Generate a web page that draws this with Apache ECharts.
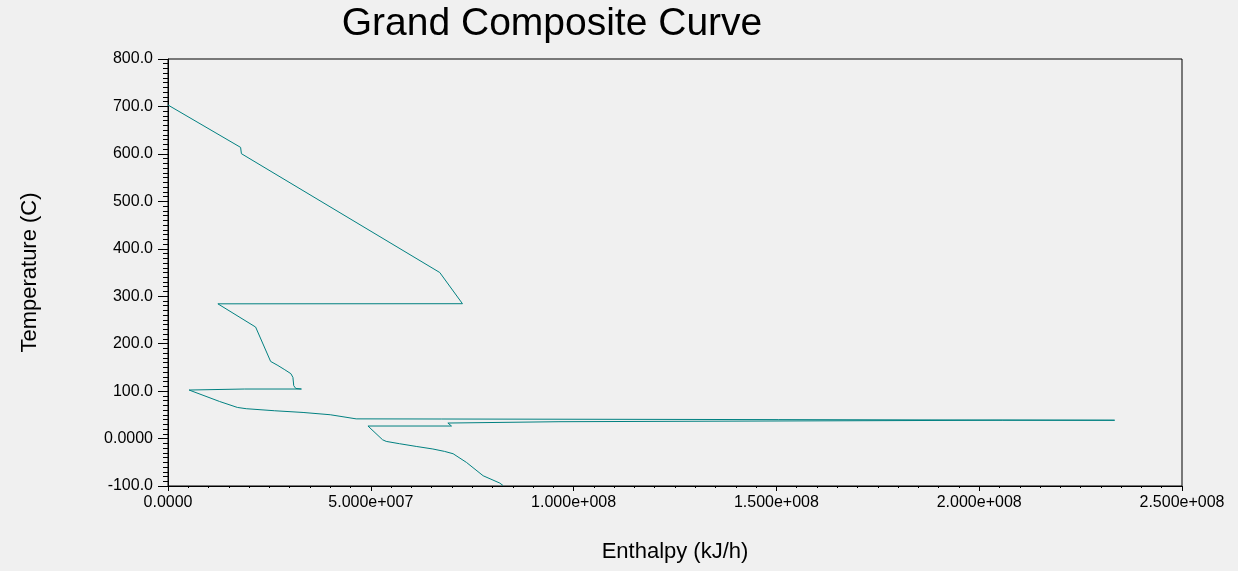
<!DOCTYPE html>
<html>
<head>
<meta charset="utf-8">
<title>Grand Composite Curve</title>
<script src="https://cdn.jsdelivr.net/npm/echarts@6/dist/echarts.min.js"></script>
<style>
  html, body { margin: 0; padding: 0; background: #f0f0f0; }
  #chart { width: 1238px; height: 571px; }
</style>
</head>
<body>
<div id="chart"></div>
<script>
// enthalpy in kJ/h, temperature in C
const enthalpy = [
  0, 17.9e6, 18.1e6, 67.0e6, 72.6e6, 12.3e6, 21.6e6, 25.3e6, 27.1e6, 28.8e6,
  30.3e6, 30.8e6, 31.0e6, 31.5e6, 32.9e6, 18.9e6, 18.9e6, 5.2e6, 12.7e6, 17.1e6,
  19.3e6, 26.3e6, 33.3e6, 40.0e6, 46.4e6, 67.5e6, 67.5e6, 233.4e6, 205.7e6, 205.7e6,
  96.4e6, 96.4e6, 69.0e6, 69.9e6, 49.3e6, 52.9e6, 53.8e6, 57.1e6, 61.2e6, 65.3e6,
  68.2e6, 70.3e6, 73.6e6, 77.7e6, 81.8e6, 82.6e6
];
const temperature = [
  703, 613.7, 600.4, 350, 284.2, 284.0, 235, 162.6, 154, 145,
  136.7, 128.9, 111.4, 105.7, 104.4, 104.4, 102.3, 102.3, 78.2, 65.6,
  62.9, 58.6, 55, 50.2, 41.5, 41.2, 39.0, 38.6, 38.6, 35.5,
  35.5, 32.7, 32.7, 26.4, 26.4, -2.5, -6, -10.9, -16.6, -22,
  -27.1, -32, -50.4, -78.4, -93.8, -99
];

const xMin = 0, xMax = 2.5e8, xStep = 5e7;
const yMin = -100, yMax = 800, yStep = 100;

const curve = enthalpy.map((h, i) => [h, temperature[i]]);

function expLabel(v) {
  if (v === 0) return '0.0000';
  const parts = v.toExponential(3).split('e');
  const sign = parts[1].charAt(0);
  const digits = parts[1].slice(1).padStart(3, '0');
  return parts[0] + 'e' + sign + digits;
}

const chart = echarts.init(document.getElementById('chart'));
chart.setOption({
  backgroundColor: '#f0f0f0',
  animation: false,
  textStyle: { fontFamily: 'Liberation Sans, Arial, sans-serif' },
  title: {
    text: 'Grand Composite Curve',
    left: 547,
    top: 0,
    textAlign: 'center',
    textStyle: { fontSize: 39, fontWeight: 'normal', color: '#000', fontFamily: 'Liberation Sans, Arial, sans-serif' }
  },
  grid: {
    left: 168, right: 56, top: 59, bottom: 85,
    show: true, borderColor: '#000', borderWidth: 1, backgroundColor: 'transparent'
  },
  xAxis: {
    type: 'value',
    min: xMin, max: xMax, interval: xStep,
    name: 'Enthalpy (kJ/h)',
    nameLocation: 'middle',
    nameGap: 55,
    nameTextStyle: { fontSize: 22, color: '#000' },
    axisLine: { show: true, onZero: false, lineStyle: { color: '#000', width: 1 } },
    axisTick: { show: true, length: 5, lineStyle: { color: '#000' } },
    minorTick: { show: true, splitNumber: 10, length: 2, lineStyle: { color: '#000' } },
    splitLine: { show: false },
    axisLabel: { fontSize: 16, color: '#000', margin: 9, formatter: expLabel }
  },
  yAxis: {
    type: 'value',
    min: yMin, max: yMax, interval: yStep,
    name: 'Temperature (C)',
    nameLocation: 'middle',
    nameGap: 127,
    nameTextStyle: { fontSize: 22, color: '#000' },
    axisLine: { show: true, onZero: false, lineStyle: { color: '#000', width: 1 } },
    axisTick: { show: true, length: 10, lineStyle: { color: '#000' } },
    minorTick: { show: true, splitNumber: 10, length: 5, lineStyle: { color: '#000' } },
    splitLine: { show: false },
    axisLabel: {
      fontSize: 16, color: '#000', margin: 15,
      formatter: v => (v === 0 ? '0.0000' : v.toFixed(1))
    }
  },
  series: [{
    type: 'line',
    data: curve,
    showSymbol: false,
    symbol: 'none',
    smooth: false,
    lineStyle: { color: '#008080', width: 1 },
    itemStyle: { color: '#008080' }
  }]
});
</script>
</body>
</html>
